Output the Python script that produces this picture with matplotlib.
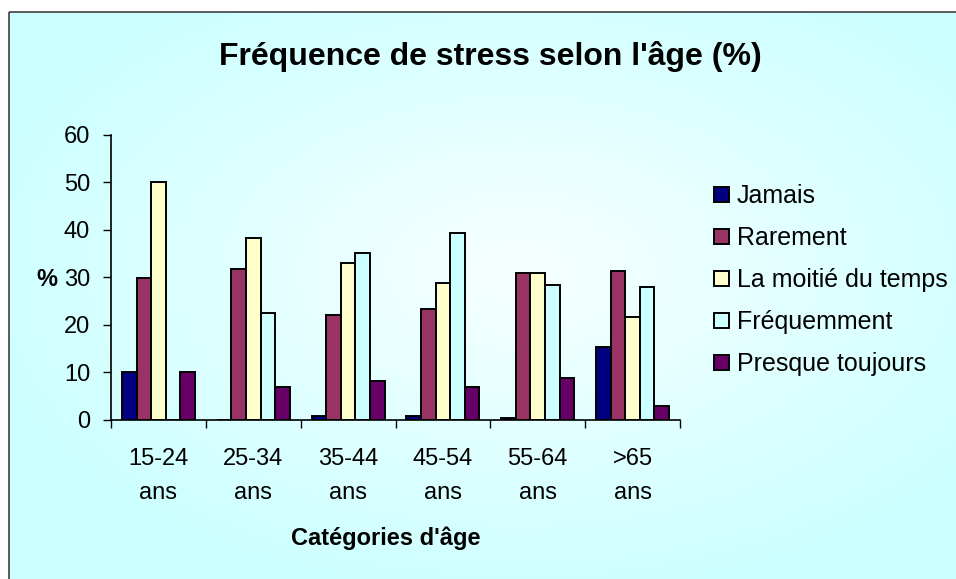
import numpy as np
import matplotlib.pyplot as plt
from matplotlib.patches import Rectangle

plt.rcParams['font.family'] = ['Liberation Sans', 'DejaVu Sans']

categories = ['15-24\nans', '25-34\nans', '35-44\nans', '45-54\nans', '55-64\nans', '>65\nans']
series_names = ['Jamais', 'Rarement', 'La moitié du temps', 'Fréquemment', 'Presque toujours']
jamais = [10.0, 0.0, 0.8, 0.8, 0.35, 15.4]
rarement = [29.8, 31.8, 22.1, 23.4, 30.9, 31.4]
moitie = [50.0, 38.2, 33.0, 28.8, 30.9, 21.7]
frequemment = [0.0, 22.5, 35.1, 39.3, 28.4, 28.0]
presque = [10.0, 7.0, 8.3, 7.0, 8.8, 2.9]
colors = ['#000080', '#993366', '#FFFFCC', '#CCFFFF', '#660066']

W, H = 956, 579
fig = plt.figure(figsize=(W / 100, H / 100), dpi=100)
fig.patch.set_facecolor('white')

# fond degrade (radial, clair au centre)
bg = fig.add_axes([0, 0, 1, 1], zorder=-10)
yy, xx = np.mgrid[0:H, 0:W]
r = np.sqrt(((xx - 520) / 560.0) ** 2 + ((yy - 270) / 330.0) ** 2)
r = np.clip(r, 0, 1)
c0 = np.array([0.97, 1.0, 1.0])
c1 = np.array([0.80, 1.0, 1.0])
img = c0[None, None, :] * (1 - r[..., None]) + c1[None, None, :] * r[..., None]
img[:12, :, :] = 1.0
img[:, :9, :] = 1.0
bg.imshow(img, extent=[0, W, H, 0], aspect='auto', interpolation='bilinear')
bg.add_patch(Rectangle((9, 12), W, H, fill=False, edgecolor='#404040', lw=1.2))
bg.set_xlim(0, W)
bg.set_ylim(H, 0)
bg.axis('off')

ax = fig.add_axes([111 / W, 1 - 420 / H, (680 - 111) / W, (420 - 134.7) / H])
ax.set_facecolor('none')

data = [jamais, rarement, moitie, frequemment, presque]
x = np.arange(len(categories))
w = 1 / 6.5
for i, (vals, name, col) in enumerate(zip(data, series_names, colors)):
    ax.bar(x + (i - 2) * w, vals, w, color=col, edgecolor='black', lw=1.4,
           label=name, zorder=3)

ax.set_xlim(-0.5, len(categories) - 0.5)
ax.set_ylim(0, 60)
ax.set_yticks(range(0, 61, 10))
ax.tick_params(axis='y', direction='out', length=6, width=1, labelsize=17, pad=9)

ax.set_xticks(np.arange(-0.5, len(categories), 1))
ax.set_xticklabels([])
ax.set_xticks(x, minor=True)
ax.set_xticklabels(categories, minor=True, fontsize=17, linespacing=1.7)
ax.tick_params(axis='x', which='major', direction='out', length=6, width=1)
ax.tick_params(axis='x', which='minor', length=0, pad=20)

for s in ['top', 'right']:
    ax.spines[s].set_visible(False)
for s in ['left', 'bottom']:
    ax.spines[s].set_linewidth(1.2)

ax.set_ylabel('%', rotation=0, fontsize=17, fontweight='bold', va='center', ha='center')
ax.yaxis.set_label_coords(-0.113, 0.494)
ax.set_xlabel("Catégories d'âge", fontsize=17, fontweight='bold', va='center')
ax.xaxis.set_label_coords(0.483, -0.414)

fig.text(490 / W, 1 - 65 / H, "Fréquence de stress selon l'âge (%)", ha='center', va='baseline',
         fontsize=23, fontweight='bold')

leg = fig.legend(loc='upper left', bbox_to_anchor=(703 / W, 1 - 173 / H),
                 fontsize=18, frameon=True, fancybox=False, framealpha=0,
                 edgecolor='#808080', handlelength=0.6, handleheight=0.5,
                 handletextpad=0.3, labelspacing=0.72, borderpad=0.45,
                 borderaxespad=0)
leg.get_frame().set_linewidth(1.5)

plt.savefig('out.png', dpi=100)
